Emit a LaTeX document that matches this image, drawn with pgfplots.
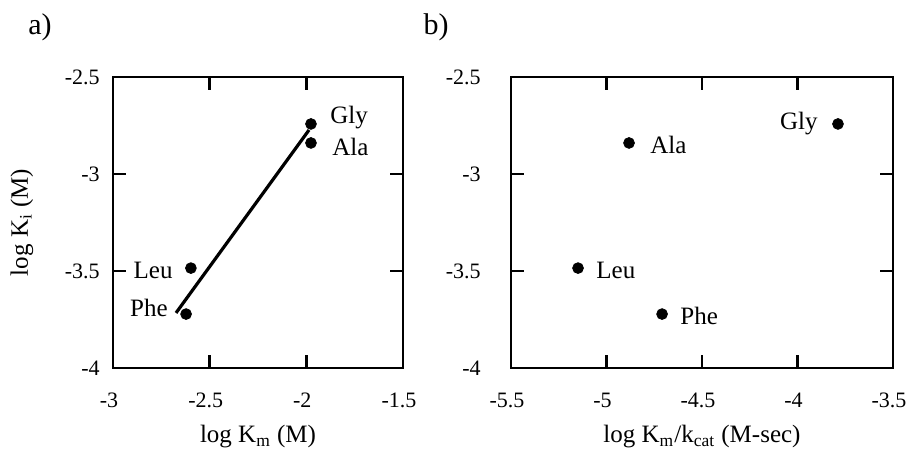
\documentclass[border=0pt]{standalone}
\usepackage{fontspec}
\setmainfont{Liberation Serif}
\usepackage{pgfplots}
\pgfplotsset{compat=1.18}
\tikzset{lbl/.style={inner sep=0pt, font=\fontsize{12.5}{14}\selectfont}}
\pgfplotsset{
  panel/.style={
    anchor=south west, scale only axis, height=145.5pt,
    ymin=-4, ymax=-2.5,
    ytick={-4,-3.5,-3,-2.5}, yticklabels={-4,-3.5,-3,-2.5},
    tick align=inside, major tick length=6.5pt,
    axis line style={line width=1.4pt},
    every tick/.style={line width=1.2pt, black},
    minor tick num=0,
    ticklabel style={font=\fontsize{11}{13}\selectfont},
    xticklabel style={anchor=center, yshift=-16pt, xshift=-2pt},
    yticklabel style={anchor=east, inner sep=0pt, xshift=-6.5pt},
    label style={font=\fontsize{12.5}{14}\selectfont},
    xlabel style={at={(axis description cs:0.5,-0.237)}, anchor=center},
    clip=false,
  },
}
\begin{document}
\begin{tikzpicture}[x=1pt,y=1pt]
\useasboundingbox (0,0) rectangle (453.5,225.5);
\node[font=\fontsize{15}{17}\selectfont] at (20,212) {a)};
\node[font=\fontsize{15}{17}\selectfont] at (218,212) {b)};
\begin{axis}[panel,
  at={(56.5pt,41.5pt)}, width=145pt,
  xmin=-3, xmax=-1.5,
  xtick={-3,-2.5,-2,-1.5}, xticklabels={-3,-2.5,-2,-1.5},
  xlabel={log K\textsubscript{m} (M)},
  ylabel={log K\textsubscript{i} (M)},
  ylabel style={at={(axis description cs:-0.314,0.5)}, anchor=center},
]
\addplot[black, line width=1.6pt, no marks] coordinates {(-2.674,-3.716) (-1.986,-2.773)};
\addplot[black, only marks, mark=*, mark size=2.7pt] coordinates {
(-1.976,-2.742) (-1.976,-2.840) (-2.597,-3.485) (-2.622,-3.722)};
\node[lbl, anchor=west] at (axis cs:-1.976,-2.742) [xshift=9.5pt, yshift=3pt] {Gly};
\node[lbl, anchor=west] at (axis cs:-1.976,-2.840) [xshift=10.5pt, yshift=-2pt] {Ala};
\node[lbl, anchor=east] at (axis cs:-2.597,-3.485) [xshift=-9pt, yshift=-1pt] {Leu};
\node[lbl, anchor=east] at (axis cs:-2.622,-3.722) [xshift=-9pt, yshift=3pt] {Phe};
\end{axis}
\begin{axis}[panel,
  at={(255.5pt,41.5pt)}, width=191pt,
  xmin=-5.5, xmax=-3.5,
  xtick={-5.5,-5,-4.5,-4,-3.5}, xticklabels={-5.5,-5,-4.5,-4,-3.5},
  xlabel={log K\textsubscript{m}/k\textsubscript{cat} (M-sec)},
  yticklabel style={xshift=-8.5pt},
]
\addplot[black, only marks, mark=*, mark size=2.7pt] coordinates {
(-3.788,-2.742) (-4.882,-2.840) (-5.149,-3.485) (-4.709,-3.722)};
\node[lbl, anchor=east] at (axis cs:-3.788,-2.742) [xshift=-10pt] {Gly};
\node[lbl, anchor=west] at (axis cs:-4.882,-2.840) [xshift=10.5pt, yshift=-1pt] {Ala};
\node[lbl, anchor=west] at (axis cs:-5.149,-3.485) [xshift=9pt, yshift=-1pt] {Leu};
\node[lbl, anchor=west] at (axis cs:-4.709,-3.722) [xshift=9pt, yshift=-1pt] {Phe};
\end{axis}
\end{tikzpicture}
\end{document}
